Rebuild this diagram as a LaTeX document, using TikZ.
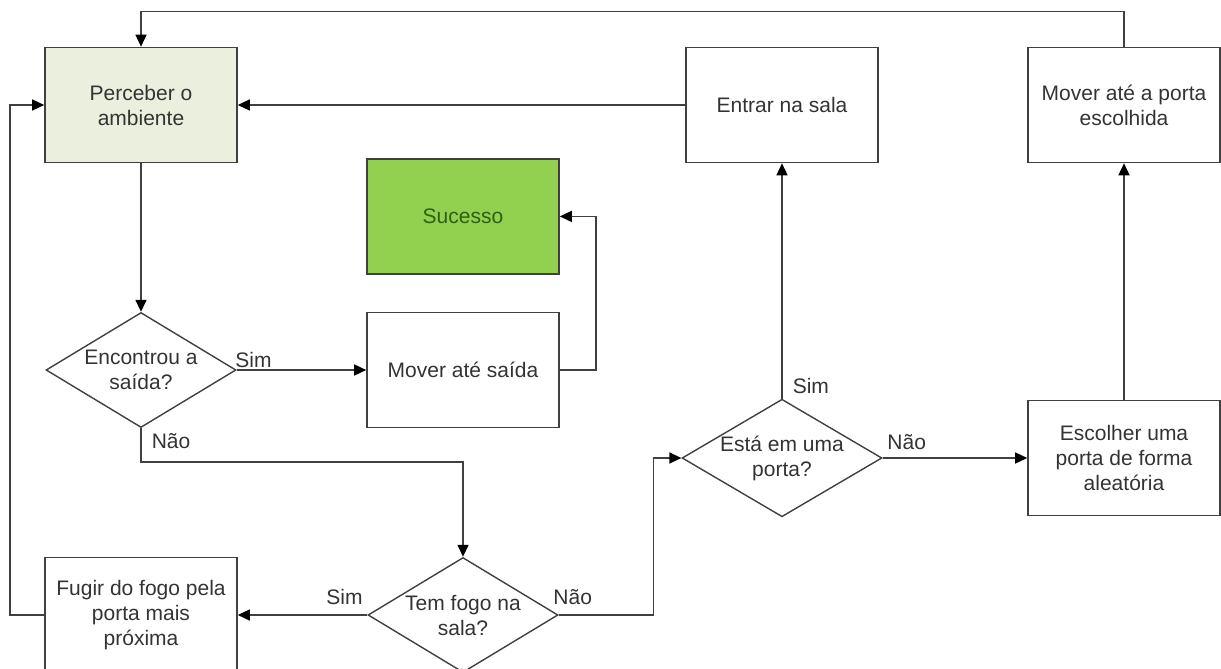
\documentclass[tikz,border=0pt]{standalone}
\usepackage{fontspec}
\setmainfont{Liberation Sans}
\usetikzlibrary{arrows.meta, positioning, shapes.geometric}
\definecolor{fcClaro}{HTML}{EBF0DE}
\definecolor{fcVerde}{HTML}{92D050}
\definecolor{fcVerdeTxt}{HTML}{2E6010}
\definecolor{fcEscuro}{HTML}{404040}
\definecolor{fcTexto}{HTML}{333333}

\begin{document}
\begin{tikzpicture}[
  x=0.5pt, y=-0.5pt,
  node distance=18.5pt and 66pt,
  tarefa/.style={draw=fcEscuro, line width=0.8pt, minimum width=96pt, minimum height=57.5pt, align=center, inner sep=2pt, font=\fontsize{10.5}{12.5}\selectfont, text=fcTexto},
  decisao/.style={diamond, draw=fcEscuro, line width=0.7pt, aspect=1.7, minimum width=95pt, minimum height=57.5pt, inner sep=0pt, align=center, font=\fontsize{10.5}{12.5}\selectfont, text=fcTexto},
  fluxo/.style={-{Triangle[length=6pt, width=5.5pt, color=black]}, line width=0.75pt, draw=fcEscuro},
  rotulo/.style={font=\fontsize{10.5}{12.5}\selectfont, text=fcTexto, inner sep=2pt}
]
\useasboundingbox (0,0) rectangle (1221,669);
\clip (0,0) rectangle (1221,669);

% coluna da esquerda
\node[tarefa, fill=fcClaro] (perceber) at (141,105) {Perceber o\\ambiente};
\node[decisao] (encontrou) at (141,370) {Encontrou a\\saída?};
\node[tarefa] (fugir) at (141,615) {Fugir do fogo pela\\porta mais\\próxima};

% saida
\node[tarefa] (moversaida) at (463,370) {Mover até saída};
\node[tarefa, fill=fcVerde, text=fcVerdeTxt, above=of moversaida] (sucesso) {Sucesso};
\node[decisao] (temfogo) at (463,615) {Tem fogo na\\sala?};

% portas
\node[decisao] (porta) at (782,458) {Está em uma\\porta?};
\node[tarefa] (entrar) at (782,105) {Entrar na sala};
\node[tarefa] (escolher) at (1124,458) {Escolher uma\\porta de forma\\aleatória};
\node[tarefa] (moverporta) at (1124,105) {Mover até a porta\\escolhida};

\draw[fluxo] (perceber) -- (encontrou);
\draw[fluxo] (encontrou.east) -- node[rotulo, pos=0, above right, xshift=-3pt, yshift=-1pt] {Sim} (moversaida.west);
\draw[fluxo] (moversaida.east) -- ++(36,0) |- (sucesso.east);
\draw[fluxo] (encontrou.south) -- node[rotulo, pos=0, below right, xshift=3pt] {Não} ++(0,34) -| (temfogo.north);
\draw[fluxo] (temfogo.west) -- node[rotulo, pos=0, above left, yshift=3pt] {Sim} (fugir.east);
\draw[fluxo] (fugir.west) -- ++(-34,0) |- (perceber.west);
\draw[fluxo] (temfogo.east) -- node[rotulo, pos=0, above right, xshift=-5pt, yshift=3pt] {Não} ++(95,0) |- (porta.west);
\draw[fluxo] (porta.north) -- node[rotulo, pos=0, above right, xshift=3pt] {Sim} (entrar.south);
\draw[fluxo] (porta.east) -- node[rotulo, pos=0, above right, yshift=2pt] {Não} (escolher.west);
\draw[fluxo] (escolher) -- (moverporta);
\draw[fluxo] (moverporta.north) -- ++(0,-35) -| (perceber.north);
\draw[fluxo] (entrar) -- (perceber);
\end{tikzpicture}
\end{document}
